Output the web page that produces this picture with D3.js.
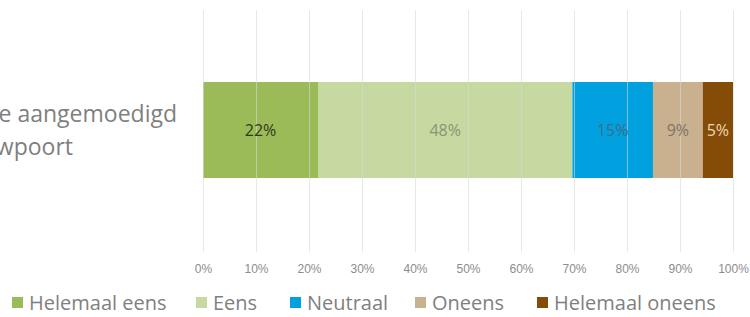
<!DOCTYPE html>
<html>
<head>
<meta charset="utf-8">
<script src="https://cdn.jsdelivr.net/npm/d3@7"></script>
<style>
  body { margin: 0; background: #fff; overflow: hidden; }
  svg { display: block; font-family: "Open Sans", "Noto Sans", sans-serif; }
</style>
</head>
<body>
<svg id="chart"></svg>
<script>
const svgWidth = 750;
const svgHeight = 317;

// data
const categories = ["Fietsen wordt voldoende aangemoedigd|in Nieuwpoort"];
const seriesNames = ["Helemaal eens", "Eens", "Neutraal", "Oneens", "Helemaal oneens"];
const seriesValues = [0.217, 0.48, 0.152, 0.094, 0.057];
const valueLabels = ["22%", "48%", "15%", "9%", "5%"];
const seriesColors = ["#9bbb59", "#c6d9a0", "#00a1de", "#c9b08f", "#844c07"];
const labelColors = ["#2f3a1c", "#8a9474", "#3f6d8a", "#7d746a", "#ead7b5"];
const ticks = [0, 0.1, 0.2, 0.3, 0.4, 0.5, 0.6, 0.7, 0.8, 0.9, 1];

const svg = d3.select("#chart")
	.attr("width", svgWidth)
	.attr("height", svgHeight);

const xScale = d3.scaleLinear()
	.domain([0, 1])
	.range([203, 733]);
const yScale = d3.scaleBand()
	.domain(categories)
	.range([82, 178]);

// stack the segments
let stacked = [];
let acc = 0;
seriesValues.forEach((v, i) => {
	stacked.push({name: seriesNames[i], x0: acc, x1: acc + v, label: valueLabels[i], color: seriesColors[i], tc: labelColors[i]});
	acc += v;
});

// bars
svg.selectAll("rect.seg")
	.data(stacked)
	.enter()
	.append("rect")
	.attr("class", "seg")
	.attr("x", d => xScale(d.x0))
	.attr("y", yScale(categories[0]))
	.attr("width", d => xScale(d.x1) - xScale(d.x0))
	.attr("height", yScale.bandwidth())
	.attr("fill", d => d.color);

// grid lines (drawn faintly over the bars)
const xAxis = d3.axisBottom(xScale)
	.tickValues(ticks)
	.tickSize(-242)
	.tickSizeOuter(0)
	.tickPadding(12)
	.tickFormat(d3.format(".0%"));
const gx = svg.append("g")
	.attr("transform", "translate(0, 252)")
	.call(xAxis);
gx.select(".domain").remove();
gx.selectAll(".tick line")
	.attr("stroke", "#d9d9d9")
	.attr("stroke-opacity", 0.6);
gx.selectAll(".tick text")
	.attr("fill", "#8c8c8c")
	.attr("font-size", "12px");

// value labels
svg.selectAll("text.val")
	.data(stacked)
	.enter()
	.append("text")
	.attr("class", "val")
	.attr("x", d => (xScale(d.x0) + xScale(d.x1)) / 2)
	.attr("y", yScale(categories[0]) + yScale.bandwidth() / 2)
	.attr("dy", "0.35em")
	.attr("text-anchor", "middle")
	.attr("font-size", "16px")
	.attr("fill", d => d.tc)
	.text(d => d.label);

// category label, cut off at the left edge like the original
const catLines = categories[0].split("|");
const catRight = [177, 73];
svg.append("g")
	.selectAll("text")
	.data(catLines)
	.enter()
	.append("text")
	.attr("x", (d, i) => catRight[i])
	.attr("y", (d, i) => 122 + i * 33)
	.attr("text-anchor", "end")
	.attr("font-size", "23px")
	.attr("fill", "#7f7f7f")
	.text(d => d);

// legend
const legendX = [12, 196, 290, 415, 537];
const legend = svg.append("g")
	.selectAll("g")
	.data(seriesNames)
	.enter()
	.append("g")
	.attr("transform", (d, i) => `translate(${legendX[i]}, 297)`);
legend.append("rect")
	.attr("width", 11)
	.attr("height", 11)
	.attr("fill", (d, i) => seriesColors[i]);
legend.append("text")
	.attr("x", 17)
	.attr("y", 13)
	.attr("font-size", "20px")
	.attr("fill", "#7f7f7f")
	.text(d => d);
</script>
</body>
</html>
